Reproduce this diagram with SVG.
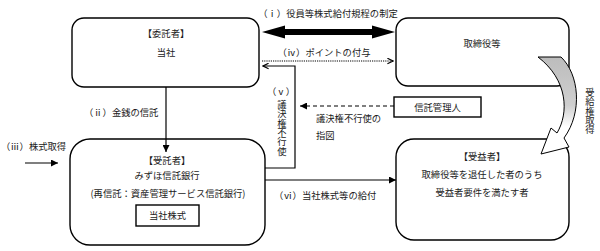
<svg xmlns="http://www.w3.org/2000/svg" width="600" height="251" viewBox="0 0 600 251">
<defs>
<style>
text{font-family:"Noto Sans CJK JP","Noto Sans CJK SC",sans-serif;font-size:9.3px;fill:#1a1a1a}
.c{text-anchor:middle}
.v{writing-mode:vertical-rl;text-orientation:upright;glyph-orientation-vertical:0}
.box{fill:#fff;stroke:#000;stroke-width:1.4}
.ln{fill:none;stroke:#000;stroke-width:1.2}
</style>
<marker id="tri" viewBox="0 0 10 10" refX="10" refY="5" markerWidth="7" markerHeight="7" markerUnits="userSpaceOnUse" orient="auto">
<path d="M0,0 L10,5 L0,10 Z" fill="#000"/>
</marker>
<marker id="chev" viewBox="0 0 10 10" refX="9" refY="5" markerWidth="7" markerHeight="7" markerUnits="userSpaceOnUse" orient="auto">
<path d="M1,1 L9,5 L1,9" fill="none" stroke="#000" stroke-width="1.6"/>
</marker>
<linearGradient id="grad" x1="0" y1="0" x2="0" y2="1">
<stop offset="0" stop-color="#bcbcbc"/>
<stop offset="0.5" stop-color="#cfcfcf"/>
<stop offset="0.72" stop-color="#ffffff"/>
</linearGradient>
</defs>
<rect width="600" height="251" fill="#fff"/>

<g id="itakusha">
<rect class="box" x="72" y="18" width="187" height="69" rx="12"/>
<text class="c" x="166" y="36.5">【委託者】</text>
<text class="c" x="166" y="55.5">当社</text>
</g>

<g id="torishimariyaku">
<rect class="box" x="396" y="18" width="173" height="68" rx="12"/>
<text class="c" x="482" y="46.5">取締役等</text>
</g>

<g id="shintaku-kanrinin">
<rect class="box" x="394" y="97" width="87" height="20"/>
<text class="c" x="437.5" y="110.5">信託管理人</text>
</g>

<g id="jutakusha">
<rect class="box" x="70" y="139" width="195" height="106" rx="20"/>
<text class="c" x="167" y="163.5">【受託者】</text>
<text class="c" x="167" y="178.5">みずほ信託銀行</text>
<text class="c" x="168" y="196.5">(再信託：資産管理サービス信託銀行)</text>
<rect class="box" x="136" y="205" width="63" height="21"/>
<text class="c" x="167.5" y="218.5">当社株式</text>
</g>

<g id="juekisha">
<rect class="box" x="396" y="139" width="173" height="101" rx="18"/>
<text class="c" x="482" y="159.5">【受益者】</text>
<text class="c" x="482" y="177.5">取締役等を退任した者のうち</text>
<text class="c" x="482" y="195.5">受益者要件を満たす者</text>
</g>

<g id="connectors">
<path d="M262,32 L285,25.5 L285,29 L372,29 L372,25.5 L395,32 L372,38.5 L372,35 L285,35 L285,38.5 Z" fill="#000"/>
<text class="c" x="328" y="16.5">（ⅰ）役員等株式給付規程の制定</text>
<line class="ln" x1="262" y1="61" x2="393" y2="61" stroke-dasharray="1.2,1" stroke-width="1" marker-end="url(#chev)"/>
<text class="c" x="324" y="55.5">（ⅳ）ポイントの付与</text>
<line class="ln" x1="166" y1="87" x2="166" y2="152" marker-end="url(#tri)"/>
<text x="84" y="115.5">（ⅱ）金銭の信託</text>
<line class="ln" x1="25" y1="163" x2="58" y2="163" marker-end="url(#tri)"/>
<text x="1" y="150">（ⅲ）株式取得</text>
<polyline class="ln" points="265,168 295,168 295,66 263,66" marker-end="url(#chev)"/>
<text class="c" x="281" y="94.5">（ⅴ）</text>
<text class="v" x="282" y="100">議決権不行使</text>
<line class="ln" x1="394" y1="106" x2="300" y2="106" stroke-dasharray="4,3" marker-end="url(#tri)"/>
<text x="316" y="121.5">議決権不行使の</text>
<text x="316" y="138.5">指図</text>
<line class="ln" x1="265" y1="180" x2="396" y2="180" marker-end="url(#tri)"/>
<text x="274" y="198.5">（ⅵ）当社株式等の給付</text>
<path d="M538,57 L561,57 C579,74 583,112 564,138 L569,147 L541,154 L551,128 L557,133 C569,113 568,80 538,57 Z" fill="url(#grad)" stroke="#000" stroke-width="1"/>
<text class="v" x="590" y="88">受給権取得</text>
</g>
</svg>
